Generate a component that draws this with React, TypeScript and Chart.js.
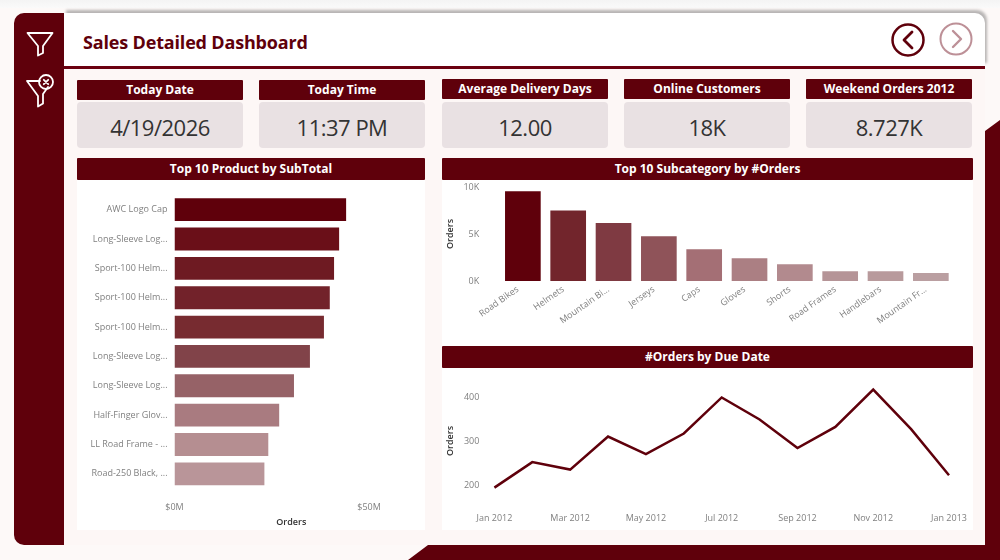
import React, { useEffect, useRef } from "react";
import { Chart, registerables } from "chart.js";

Chart.register(...registerables);

const FONT = '"Open Sans", "Noto Sans", sans-serif';
const DARK = "#5f000b";

const productLabels = ["AWC Logo Cap", "Long-Sleeve Log...", "Sport-100 Helm...", "Sport-100 Helm...", "Sport-100 Helm...", "Long-Sleeve Log...", "Long-Sleeve Log...", "Half-Finger Glov...", "LL Road Frame - ...", "Road-250 Black, ..."];
const productValues = [44.1, 42.3, 41.0, 39.9, 38.4, 34.8, 30.7, 26.9, 24.1, 23.1];
const productColors = ["#5f000b", "#6a0f18", "#6e1a22", "#72222a", "#772b30", "#814349", "#966267", "#a97b80", "#b58e91", "#b99599"];
const productTicks = [0, 50];

const subcatLabels = ["Road Bikes", "Helmets", "Mountain Bi...", "Jerseys", "Caps", "Gloves", "Shorts", "Road Frames", "Handlebars", "Mountain Fr..."];
const subcatValues = [9540, 7510, 6160, 4770, 3380, 2420, 1780, 1035, 1035, 855];
const subcatColors = ["#5f000b", "#72252c", "#7f3a42", "#8f5359", "#a46f75", "#ab7f83", "#b28a8e", "#b59497", "#b89a9c", "#ba9fa1"];
const subcatTicks = [0, 5000, 10000];

const monthLabels = ["Jan 2012", "Feb 2012", "Mar 2012", "Apr 2012", "May 2012", "Jun 2012", "Jul 2012", "Aug 2012", "Sep 2012", "Oct 2012", "Nov 2012", "Dec 2012", "Jan 2013"];
const monthValues = [194, 252, 235, 310, 270, 317, 399, 349, 284, 332, 417, 327, 222];
const monthTicks = [200, 300, 400];

const kpiTitles = ["Today Date", "Today Time", "Average Delivery Days", "Online Customers", "Weekend Orders 2012"];
const kpiValues = ["4/19/2026", "11:37 PM", "12.00", "18K", "8.727K"];
const kpiLefts = [77, 259, 442, 624, 806];

const tickFont = { family: FONT, size: 9 };
const titleFont = { family: FONT, size: 9, weight: "600" as const };
const tickColor = "#808080";
const noGrid = { display: false, drawTicks: false };

const fixTicks = (values: number[]) => (s: any) => { s.ticks = values.map((value) => ({ value })); };
const fitBox = (prop: "width" | "height", size: number) => (s: any) => {
  s[prop] = size;
  s.paddingTop = 0; s.paddingBottom = 0; s.paddingLeft = 0; s.paddingRight = 0;
};

function useChart(make: (c: HTMLCanvasElement) => Chart) {
  const ref = useRef<HTMLCanvasElement>(null);
  useEffect(() => {
    const chart = make(ref.current as HTMLCanvasElement);
    return () => chart.destroy();
  }, []);
  return ref;
}

const canvasStyle = (l: number, t: number, w: number, h: number): React.CSSProperties => ({
  position: "absolute", left: l, top: t, width: w, height: h, background: "#fff", display: "block",
});

function Bar({ l, t, w, h, text }: { l: number; t: number; w: number; h: number; text: string }) {
  return (
    <div style={{ position: "absolute", left: l, top: t, width: w, height: h, background: DARK, color: "#fff", borderRadius: 1, font: `700 12px ${FONT}`, lineHeight: h + "px", textAlign: "center", whiteSpace: "nowrap" }}>{text}</div>
  );
}

export default function App() {
  const productRef = useChart((c) => new Chart(c, {
    type: "bar",
    data: { labels: productLabels, datasets: [{ data: productValues, backgroundColor: productColors, barPercentage: 0.78, categoryPercentage: 1 }] },
    options: {
      indexAxis: "y", animation: false, responsive: false,
      layout: { padding: { top: 15, right: 17 } },
      plugins: { legend: { display: false }, tooltip: { enabled: false } },
      scales: {
        x: {
          min: 0, max: 60, grid: noGrid, border: { display: false },
          afterBuildTicks: fixTicks(productTicks),
          ticks: { maxRotation: 0, color: tickColor, font: tickFont, padding: 14, callback: (v: any) => `$${v}M` },
          title: { display: true, text: "Orders", color: "#333", font: titleFont, padding: { top: 2, bottom: 2.5 } },
          afterFit: fitBox("height", 41.5),
        },
        y: {
          grid: noGrid, border: { display: false },
          ticks: { color: tickColor, font: tickFont, padding: 7, autoSkip: false },
          afterFit: fitBox("width", 97.5),
        },
      },
    },
  } as any));

  const subcatRef = useChart((c) => new Chart(c, {
    type: "bar",
    data: { labels: subcatLabels, datasets: [{ data: subcatValues, backgroundColor: subcatColors, barPercentage: 0.787, categoryPercentage: 1 }] },
    options: {
      animation: false, responsive: false,
      layout: { padding: { top: 7, right: 19.5 } },
      plugins: { legend: { display: false }, tooltip: { enabled: false } },
      scales: {
        x: {
          grid: noGrid, border: { display: false },
          ticks: { color: tickColor, font: tickFont, minRotation: 35, maxRotation: 35, autoSkip: false, padding: 3, labelOffset: -5 },
          afterFit: fitBox("height", 65),
        },
        y: {
          min: 0, max: 10000, grid: noGrid, border: { display: false },
          afterBuildTicks: fixTicks(subcatTicks),
          ticks: { color: tickColor, font: tickFont, padding: 21, callback: (v: any) => `${v / 1000}K` },
          title: { display: true, text: "Orders", color: "#333", font: titleFont, padding: { top: 3, bottom: 0 } },
          afterFit: fitBox("width", 58.2),
        },
      },
    },
  } as any));

  const monthRef = useChart((c) => new Chart(c, {
    type: "line",
    data: { labels: monthLabels, datasets: [{ data: monthValues, borderColor: DARK, borderWidth: 2.5, pointRadius: 0, tension: 0, fill: false }] },
    options: {
      animation: false, responsive: false,
      layout: { padding: { top: 7, right: 24 } },
      plugins: { legend: { display: false }, tooltip: { enabled: false } },
      scales: {
        x: {
          offset: false, grid: noGrid, border: { display: false },
          ticks: { color: tickColor, font: tickFont, maxRotation: 0, autoSkip: false, padding: 6, callback: function (this: any, v: any, i: number) { return i % 2 === 0 ? this.getLabelForValue(v) : null; } },
          afterFit: fitBox("height", 23),
        },
        y: {
          min: 150, max: 450, grid: noGrid, border: { display: false },
          afterBuildTicks: fixTicks(monthTicks),
          ticks: { color: tickColor, font: tickFont, padding: 15 },
          title: { display: true, text: "Orders", color: "#333", font: titleFont, padding: { top: 3, bottom: 0 } },
          afterFit: fitBox("width", 52.4),
        },
      },
    },
  } as any));

  return (
    <div style={{ position: "fixed", inset: 0, width: 1000, height: 560, overflow: "hidden", background: "#fdf9f8", fontFamily: FONT }}>
      <div style={{ position: "absolute", left: 0, top: 0, width: 1000, height: 8, background: "linear-gradient(#f4f4f4,#fafafa)" }} />
      <svg width={1000} height={560} style={{ position: "absolute", left: 0, top: 0 }}>
        <polygon points="985,131 1000,120 1000,560 408,560 428,545 985,545" fill={DARK} />
      </svg>
      <div style={{ position: "absolute", left: 64, top: 66, width: 921, height: 479, background: "#fdf7f6", borderBottomRightRadius: 10 }} />
      <div style={{ position: "absolute", left: 64, top: 13, width: 921, height: 53, background: "#fff", borderTopRightRadius: 10, boxShadow: "2px -3px 3px rgba(0,0,0,0.28)" }} />
      <div style={{ position: "absolute", left: 14, top: 13, width: 50, height: 532, background: DARK, borderRadius: "10px 0 0 10px" }} />
      <div style={{ position: "absolute", left: 64, top: 66, width: 921, height: 3, background: "#6b0010" }} />

      <svg width={50} height={110} style={{ position: "absolute", left: 14, top: 13 }} fill="none" stroke="#fff" strokeWidth={1.8} strokeLinejoin="round" strokeLinecap="round">
        <path d="M13.5 20 H38.5 L29 33 V40 L24 42.5 V33 Z" />
        <path d="M13 68 L26 68 M13 68 L24 83 V93.5 L29 90.5 V81 L34 74" />
        <circle cx={32} cy={69} r={7} />
        <path d="M29.8 66.8 L34.2 71.2 M34.2 66.8 L29.8 71.2" />
      </svg>

      <div style={{ position: "absolute", left: 83, top: 29, color: "#5f000b", font: `700 18px ${FONT}`, lineHeight: "26px", whiteSpace: "nowrap", letterSpacing: "-0.17px" }}>Sales Detailed Dashboard</div>

      <svg width={100} height={50} style={{ position: "absolute", left: 885, top: 15 }} fill="none" strokeLinecap="round" strokeLinejoin="round">
        <circle cx={23} cy={25} r={15.5} stroke="#5f000b" strokeWidth={2.5} />
        <path d="M27 17 L19 25 L27 33" stroke="#5f000b" strokeWidth={2.8} />
        <circle cx={71} cy={24} r={15.5} stroke="#bd9097" strokeWidth={2} />
        <path d="M68 16 L76 24 L68 32" stroke="#bd9097" strokeWidth={2.4} />
      </svg>

      {kpiTitles.map((t, i) => (
        <React.Fragment key={t}>
          <Bar l={kpiLefts[i]} t={i < 2 ? 80 : 79} w={166} h={20} text={t} />
          <div style={{ position: "absolute", left: kpiLefts[i], top: 102, width: 166, height: 46, background: "#e9e1e3", borderRadius: 4, color: "#333", font: `400 22px ${FONT}`, letterSpacing: "-0.5px", lineHeight: "50px", textAlign: "center" }}>{kpiValues[i]}</div>
        </React.Fragment>
      ))}

      <Bar l={77} t={158} w={348} h={22} text="Top 10 Product by SubTotal" />
      <Bar l={442} t={158} w={531} h={22} text="Top 10 Subcategory by #Orders" />
      <Bar l={442} t={346} w={531} h={22} text="#Orders by Due Date" />

      <canvas ref={productRef} width={348} height={350} style={canvasStyle(77, 180, 348, 350)} />
      <canvas ref={subcatRef} width={531} height={166} style={canvasStyle(442, 180, 531, 166)} />
      <canvas ref={monthRef} width={531} height={162} style={canvasStyle(442, 368, 531, 162)} />
    </div>
  );
}
